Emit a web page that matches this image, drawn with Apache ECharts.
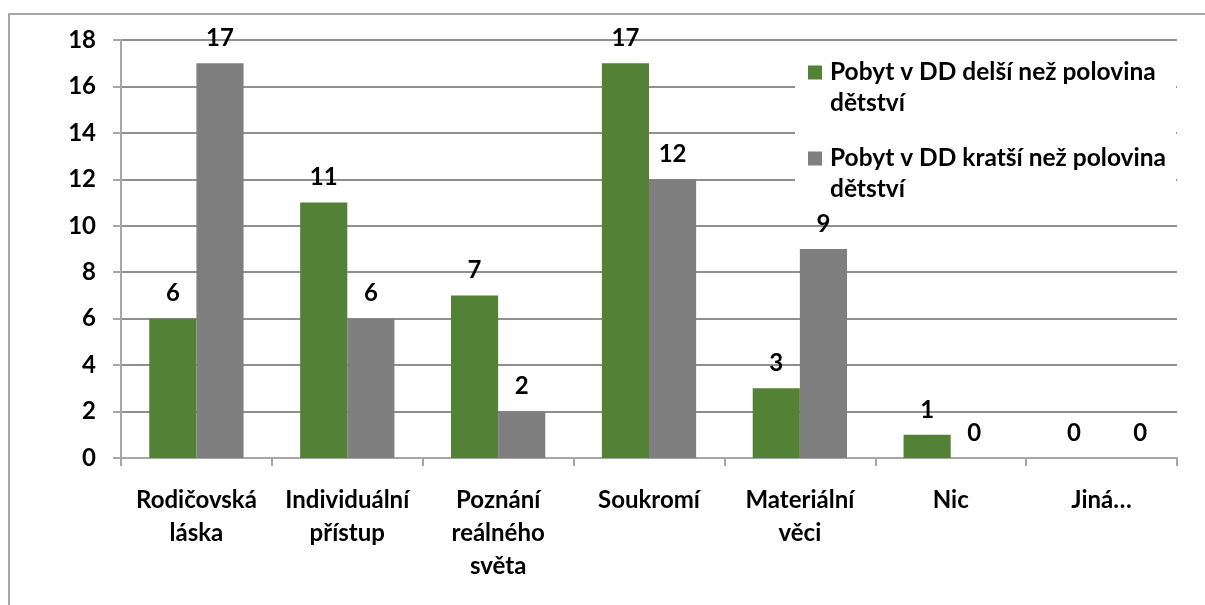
<!DOCTYPE html>
<html>
<head>
<meta charset="utf-8">
<script src="https://cdn.jsdelivr.net/npm/echarts@6/dist/echarts.min.js"></script>
<style>
html,body{margin:0;padding:0;background:#fff;}
#frame{position:absolute;left:8px;top:13px;width:1210px;height:620px;border-left:2px solid #a6a6a6;border-top:2px solid #a6a6a6;box-sizing:border-box;}
#chart{position:absolute;left:0;top:0;width:1205px;height:605px;}
</style>
</head>
<body>
<div id="frame"></div>
<div id="chart"></div>
<script>
var categories = ['Rodičovská\nláska', 'Individuální\npřístup', 'Poznání\nreálného\nsvěta', 'Soukromí', 'Materiální\nvěci', 'Nic', 'Jiná…'];
var seriesNames = ['Pobyt v DD delší než polovina\ndětství', 'Pobyt v DD kratší než polovina\ndětství'];
var longerValues = [6, 11, 7, 17, 3, 1, 0];
var shorterValues = [17, 6, 2, 12, 9, 0, 0];
var yTicks = [0, 2, 4, 6, 8, 10, 12, 14, 16, 18];

var FONT = 'Lato';
var FS = 24;
var chart = echarts.init(document.getElementById('chart'), null, {renderer: 'canvas'});
var labelStyle = {show: true, position: 'top', distance: 13, color: '#000', fontFamily: FONT, fontWeight: 'bold', fontSize: FS};

// the last category's labels were nudged sideways in the original
function withNudge(values, dx) {
  return values.map(function (v, i) {
    return i === values.length - 1 ? {value: v, label: {offset: [dx, 0]}} : v;
  });
}

chart.setOption({
  animation: false,
  backgroundColor: 'transparent',
  grid: {left: 121, right: 28, top: 40, bottom: 147, containLabel: false},
  graphic: [{
    type: 'rect', z: 1, silent: true,
    shape: {x: 795, y: 50, width: 381, height: 166},
    style: {fill: '#fff'}
  }],
  legend: {
    orient: 'vertical',
    left: 796,
    top: 26,
    padding: [0, 0, 0, 12],
    itemWidth: 14,
    itemHeight: 14,
    itemGap: -7,
    icon: 'rect',
    data: seriesNames,
    formatter: function (name) { return '\n' + name; },
    textStyle: {color: '#000', fontFamily: FONT, fontWeight: 'bold', fontSize: 24.5, lineHeight: 31, padding: [0, 0, 0, 3]}
  },
  xAxis: {
    type: 'category',
    data: categories,
    axisLine: {lineStyle: {color: '#a6a6a6', width: 2}},
    axisTick: {show: true, length: 8, lineStyle: {color: '#a6a6a6', width: 2}},
    axisLabel: {color: '#000', fontFamily: FONT, fontWeight: 'bold', fontSize: FS, lineHeight: 33, margin: 26, interval: 0}
  },
  yAxis: {
    type: 'value',
    min: yTicks[0],
    max: yTicks[yTicks.length - 1],
    interval: 2,
    axisLine: {show: true, lineStyle: {color: '#a6a6a6', width: 2}},
    axisTick: {show: true, length: 8, lineStyle: {color: '#a6a6a6', width: 2}},
    axisLabel: {color: '#000', fontFamily: FONT, fontWeight: 'bold', fontSize: FS, margin: 25},
    splitLine: {show: true, lineStyle: {color: '#8f8f8f', width: 2}}
  },
  series: [
    {name: seriesNames[0], type: 'bar', data: withNudge(longerValues, -4), barGap: '0%', barCategoryGap: '37.5%', itemStyle: {color: '#538135'}, label: labelStyle},
    {name: seriesNames[1], type: 'bar', data: withNudge(shorterValues, 15), barGap: '0%', barCategoryGap: '37.5%', itemStyle: {color: '#7f7f7f'}, label: labelStyle}
  ]
});
</script>
</body>
</html>
